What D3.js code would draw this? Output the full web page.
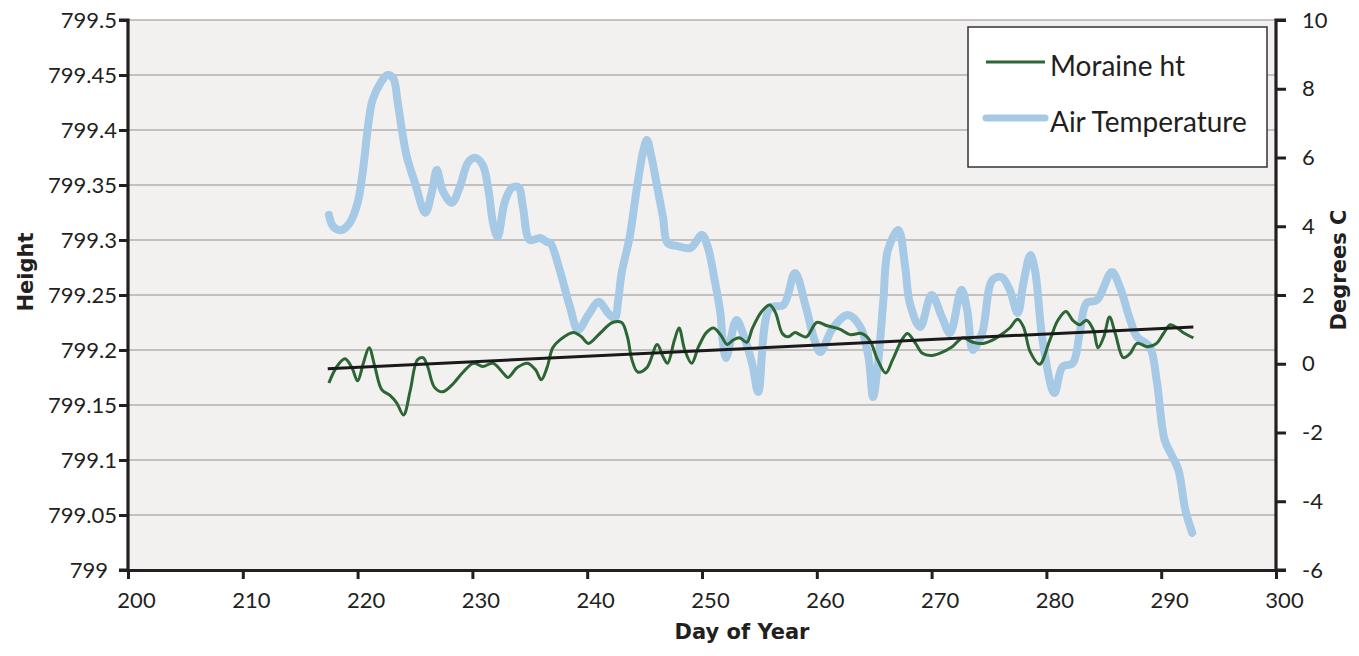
<!DOCTYPE html>
<html><head><meta charset="utf-8">
<script src="https://cdn.jsdelivr.net/npm/d3@7"></script>
<style>body{margin:0;background:#fff}</style>
</head><body><svg id="c" width="1359" height="656"></svg>
<script>
const moraineDays=[217.5,218.2,218.9,219.5,220.0,220.5,221.0,221.5,222.1,222.8,223.4,224.0,224.6,225.2,225.7,226.1,226.7,227.4,228.2,229.2,230.1,230.9,231.8,232.6,233.1,233.9,234.8,235.5,236.0,236.5,237.0,237.6,238.8,239.5,240.1,241.1,242.2,243.0,243.5,243.9,244.4,245.2,246.1,246.6,247.0,247.6,248.0,248.5,249.1,249.7,250.4,251.0,251.6,252.2,252.7,253.3,253.9,254.4,255.2,255.9,256.4,257.0,257.5,258.1,258.5,259.1,260.0,260.9,262.0,262.9,263.9,264.6,265.3,266.0,266.6,267.4,267.9,268.6,269.2,269.9,270.7,271.8,272.7,273.6,274.5,275.3,276.2,276.8,277.5,278.0,278.6,279.4,280.3,281.0,281.7,282.3,282.9,283.5,284.1,284.5,285.0,285.5,286.0,286.7,287.3,287.9,288.8,289.6,290.2,290.8,291.4,291.9,292.8];
const moraineHeights=[799.170,799.185,799.192,799.184,799.172,799.188,799.202,799.185,799.164,799.159,799.152,799.141,799.164,799.191,799.193,799.185,799.166,799.162,799.168,799.180,799.188,799.185,799.188,799.180,799.175,799.184,799.188,799.182,799.173,799.184,799.202,799.209,799.216,799.212,799.206,799.215,799.225,799.225,799.212,799.191,799.180,799.184,799.205,799.194,799.188,799.209,799.220,799.200,799.188,799.203,799.216,799.220,799.214,799.205,799.209,799.211,799.207,799.220,799.235,799.241,799.234,799.215,799.212,799.216,799.214,799.212,799.225,799.222,799.219,799.214,799.215,799.209,799.191,799.179,799.191,799.209,799.215,799.206,799.197,799.195,799.197,799.203,799.211,799.207,799.206,799.209,799.215,799.220,799.228,799.221,799.198,799.187,799.209,799.227,799.235,799.227,799.223,799.227,799.218,799.202,799.212,799.230,799.215,799.193,799.197,799.206,799.203,799.206,799.215,799.223,799.220,799.216,799.211];
const tempDays=[217.5,217.9,218.6,219.3,220.0,220.5,220.9,221.3,222.0,222.6,223.1,223.5,223.9,224.3,225.0,225.9,226.5,226.9,227.4,228.2,228.9,229.6,230.2,230.9,231.4,231.8,232.2,232.8,233.4,234.0,234.4,235.0,235.9,236.5,236.8,237.6,238.5,239.2,240.1,241.0,241.8,242.4,242.7,243.0,243.7,244.3,244.9,245.2,245.6,246.1,246.6,247.0,247.8,249.0,250.0,250.5,251.1,251.6,251.8,252.1,253.0,253.7,254.4,254.9,255.9,257.1,258.1,259.0,259.8,260.3,261.4,262.7,263.8,264.5,264.9,265.3,265.8,266.2,267.1,267.7,268.1,269.0,270.0,270.9,271.6,272.6,273.1,273.6,274.4,275.3,276.1,276.8,277.5,278.0,278.6,279.0,279.7,280.7,281.4,282.3,282.9,283.5,284.4,285.7,286.4,287.3,287.9,289.0,289.6,290.3,290.9,291.5,292.1,292.7];
const tempValues=[4.33,3.98,3.89,4.09,4.68,5.72,6.89,7.67,8.17,8.40,8.31,7.59,6.71,6.01,5.26,4.39,5.05,5.64,5.05,4.68,5.14,5.84,5.99,5.78,5.05,4.09,3.69,4.68,5.11,5.14,4.56,3.60,3.66,3.54,3.51,2.73,1.65,0.98,1.42,1.80,1.48,1.33,1.85,2.64,3.69,5.05,6.22,6.51,6.01,5.14,4.27,3.51,3.43,3.37,3.75,3.40,2.44,1.48,0.69,0.17,1.27,0.75,-0.04,-0.82,1.62,1.71,2.64,1.71,0.69,0.34,1.04,1.42,1.07,0.20,-0.97,-0.09,1.85,3.31,3.89,2.81,1.77,1.07,2.00,1.36,0.89,2.15,1.56,0.40,0.89,2.44,2.52,2.15,1.48,2.35,3.16,2.73,0.60,-0.85,-0.09,0.02,0.89,1.77,1.85,2.67,2.23,1.27,0.78,0.49,-0.47,-2.22,-2.65,-3.09,-4.25,-4.92];
const trendDays=[217.4,292.8];
const trendHeights=[799.183,799.221];
const xTicks=[200,210,220,230,240,250,260,270,280,290,300];
const heightTicks=[799,799.05,799.1,799.15,799.2,799.25,799.3,799.35,799.4,799.45,799.5];
const tempTicks=[-6,-4,-2,0,2,4,6,8,10];
const seriesNames=["Moraine ht","Air Temperature"];

const svg=d3.select("#c");
const L=128,T=20,W=1148,H=550;
const x=d3.scaleLinear().domain([200,300]).range([L,L+W]);
const yH=d3.scaleLinear().domain([799,799.5]).range([T+H,T]);
const yT=d3.scaleLinear().domain([-6,10]).range([T+H,T]);
const font="Lato, 'Open Sans', sans-serif";
const boldFont="'DejaVu Sans', Verdana, sans-serif";
const ink="#231f20";

svg.append("rect").attr("x",L).attr("y",T).attr("width",W).attr("height",H).attr("fill","#f3f1f0");
svg.append("g").selectAll("line").data(heightTicks.slice(1)).join("line")
 .attr("x1",L).attr("x2",L+W).attr("y1",d=>yH(d)).attr("y2",d=>yH(d))
 .attr("stroke","#b3b1b0").attr("stroke-width",1.6);

const fmt=d=>String(+d.toFixed(2));
const gl=svg.append("g").attr("transform",`translate(${L},0)`).call(d3.axisLeft(yH).tickValues(heightTicks).tickFormat(fmt).tickSize(9).tickPadding(2));
const gr=svg.append("g").attr("transform",`translate(${L+W},0)`).call(d3.axisRight(yT).tickValues(tempTicks).tickFormat(d=>String(d)).tickSize(10).tickPadding(16));
const gb=svg.append("g").attr("transform",`translate(0,${T+H})`).call(d3.axisBottom(x).tickValues(xTicks).tickFormat(d=>String(d)).tickSize(9).tickPadding(13));
[gl,gr,gb].forEach(g=>{
 g.select(".domain").attr("stroke",ink).attr("stroke-width",3.2);
 g.selectAll(".tick line").attr("stroke",ink).attr("stroke-width",3);
 g.selectAll("text").attr("fill",ink).style("font-family",font).style("font-size","22px");
});
gb.selectAll(".tick text").attr("dx",8);
gl.selectAll(".tick").filter(d=>d===799).select("text").attr("x",-20);
gl.select(".domain").attr("d",`M-9,${T}H0V${T+H}H-9`);
gr.select(".domain").attr("d",`M10,${T}H0V${T+H}H10`);
gb.select(".domain").attr("d",`M${L-9},0.5H${L+W}`);

const lineT=d3.line().x((d,i)=>x(tempDays[i])).y(d=>yT(d)).curve(d3.curveCatmullRom.alpha(0.5));
svg.append("path").attr("d",lineT(tempValues)).attr("fill","none").attr("stroke","#a6c9e5").attr("stroke-width",8).attr("stroke-linecap","round").attr("stroke-linejoin","round");
const lineH=d3.line().x((d,i)=>x(moraineDays[i])).y(d=>yH(d)).curve(d3.curveCatmullRom.alpha(0.5));
svg.append("path").attr("d",lineH(moraineHeights)).attr("fill","none").attr("stroke","#2b6634").attr("stroke-width",3).attr("stroke-linejoin","round");
const lineTr=d3.line().x((d,i)=>x(trendDays[i])).y(d=>yH(d));
svg.append("path").attr("d",lineTr(trendHeights)).attr("fill","none").attr("stroke","#1a1a1a").attr("stroke-width",3);

svg.append("text").attr("transform",`translate(33,272) rotate(-90)`).attr("text-anchor","middle")
 .style("font-family",boldFont).style("font-weight","bold").style("font-size","21px").attr("fill",ink).text("Height");
svg.append("text").attr("transform",`translate(1346,270) rotate(-90)`).attr("text-anchor","middle")
 .style("font-family",boldFont).style("font-weight","bold").style("font-size","21px").attr("fill",ink).text("Degrees C");
svg.append("text").attr("x",742).attr("y",639).attr("text-anchor","middle")
 .style("font-family",boldFont).style("font-weight","bold").style("font-size","21px").attr("fill",ink).text("Day of Year");

const lg=svg.append("g");
lg.append("rect").attr("x",968).attr("y",27).attr("width",299).attr("height",140).attr("fill","#fff").attr("stroke","#333").attr("stroke-width",1.5);
const lgStyles=[{c:"#2b6634",w:3},{c:"#a6c9e5",w:7}];
seriesNames.forEach((n,i)=>{
 const yy=68+i*56;
 lg.append("line").attr("x1",986).attr("x2",1045).attr("y1",yy-6).attr("y2",yy-6).attr("stroke",lgStyles[i].c).attr("stroke-width",lgStyles[i].w).attr("stroke-linecap",i?"round":"butt");
 lg.append("text").attr("x",1050).attr("y",yy+8).style("font-family",font).style("font-size","28px").attr("fill",ink).text(n);
});
</script></body></html>
